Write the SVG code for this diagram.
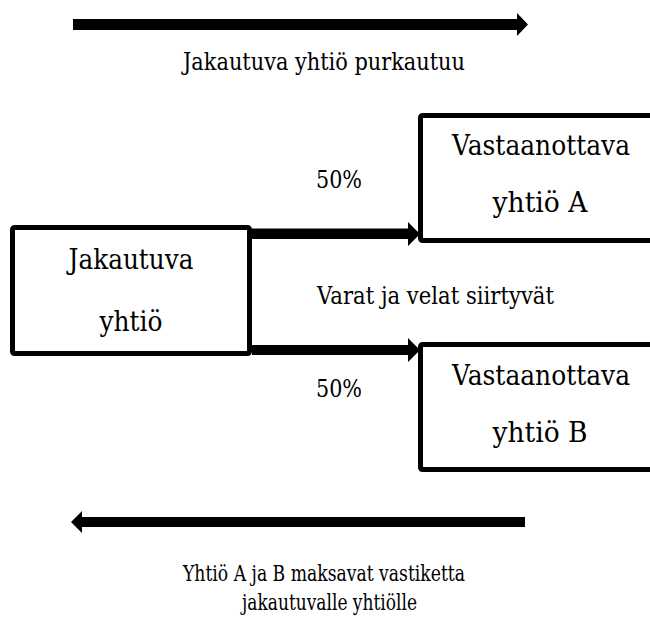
<svg xmlns="http://www.w3.org/2000/svg" width="650" height="619" viewBox="0 0 650 619">
<style>
  .box { fill: #ffffff; stroke: #000000; stroke-width: 5; }
  .arrow { fill: #000000; stroke: none; }
  .t { font-family: "DejaVu Serif", "Liberation Serif", serif; fill: #000000; }
  .node { font-size: 28px; text-anchor: middle; }
  .lbl { font-size: 24px; }
  .small { font-size: 22px; }
</style>
<rect width="650" height="619" fill="#ffffff"/>
<g id="connectors">
  <polygon class="arrow" points="73,19 517,19 517,13 528,24.5 517,36 517,30 73,30"/>
  <polygon class="arrow" points="252,228.5 408,228.5 408,222 420,234 408,246 408,239 252,239"/>
  <polygon class="arrow" points="252,345 408,345 408,338 420,350 408,362 408,355 252,355"/>
  <polygon class="arrow" points="525,517 82,517 82,511 71,522 82,533 82,527 525,527"/>
</g>
<g id="node-jakautuva">
  <rect class="box" x="12.5" y="227.5" width="237" height="126" rx="2"/>
  <text class="t node" x="131" y="269" textLength="125" lengthAdjust="spacingAndGlyphs">Jakautuva</text>
  <text class="t node" x="131" y="331" textLength="63" lengthAdjust="spacingAndGlyphs">yhtiö</text>
</g>
<g id="node-a">
  <rect class="box" x="420.5" y="115.5" width="240" height="125" rx="2"/>
  <text class="t node" x="541" y="155" textLength="178" lengthAdjust="spacingAndGlyphs">Vastaanottava</text>
  <text class="t node" x="540" y="212" textLength="95" lengthAdjust="spacingAndGlyphs">yhtiö A</text>
</g>
<g id="node-b">
  <rect class="box" x="420.5" y="344.5" width="240" height="125" rx="2"/>
  <text class="t node" x="541" y="385" textLength="178" lengthAdjust="spacingAndGlyphs">Vastaanottava</text>
  <text class="t node" x="540" y="442" textLength="95" lengthAdjust="spacingAndGlyphs">yhtiö B</text>
</g>
<g id="labels">
  <text class="t lbl" x="183" y="70" textLength="282" lengthAdjust="spacingAndGlyphs">Jakautuva yhtiö purkautuu</text>
  <text class="t lbl" x="316" y="188" textLength="46" lengthAdjust="spacingAndGlyphs">50%</text>
  <text class="t lbl" x="317" y="304" textLength="237" lengthAdjust="spacingAndGlyphs">Varat ja velat siirtyvät</text>
  <text class="t lbl" x="316" y="397" textLength="46" lengthAdjust="spacingAndGlyphs">50%</text>
  <text class="t small" x="183" y="581" textLength="282" lengthAdjust="spacingAndGlyphs">Yhtiö A ja B maksavat vastiketta</text>
  <text class="t small" x="242" y="610" textLength="175" lengthAdjust="spacingAndGlyphs">jakautuvalle yhtiölle</text>
</g>
</svg>
